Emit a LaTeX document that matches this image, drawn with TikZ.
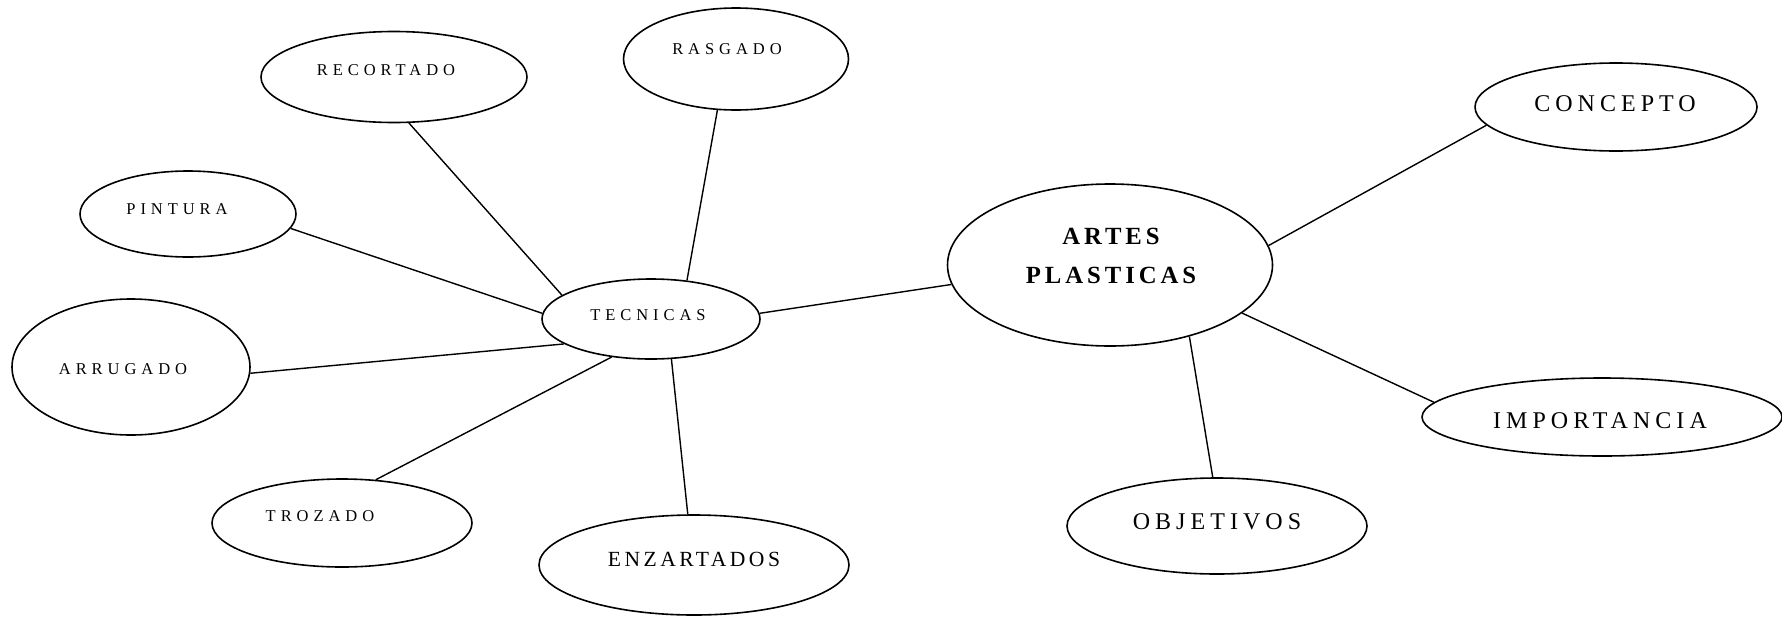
\documentclass[tikz,border=0pt]{standalone}
\usepackage{fontspec}
\usetikzlibrary{shapes.geometric}
\setmainfont{Liberation Serif}
\newfontfamily\smallf[LetterSpace=30]{Liberation Serif}
\newfontfamily\bigf[LetterSpace=21]{Liberation Serif}
\newfontfamily\enzf[LetterSpace=16]{Liberation Serif}
\newfontfamily\artf[LetterSpace=16]{Liberation Serif}
\tikzset{
  ell/.style={draw, ellipse, line width=1.6pt, inner sep=0pt},
  conn/.style={line width=1.4pt},
  sml/.style={inner sep=0pt, font=\smallf\fontsize{16.5}{19}\selectfont},
  bigl/.style={inner sep=0pt, font=\bigf\fontsize{24}{28}\selectfont},
  enzl/.style={inner sep=0pt, font=\enzf\fontsize{21.6}{25}\selectfont},
  artl/.style={inner sep=0pt, align=center, font=\artf\bfseries\fontsize{24.7}{39}\selectfont},
}
\begin{document}
\begin{tikzpicture}[x=1pt,y=-1pt]
\useasboundingbox (0,0) rectangle (1782,616);
% ellipses
\node[ell, minimum width=266, minimum height=91] (rec) at (394,77) {};
\node[ell, minimum width=225, minimum height=102] (ras) at (736,59) {};
\node[ell, minimum width=216, minimum height=86] (pin) at (188,214) {};
\node[ell, minimum width=238, minimum height=136] (arr) at (131,367) {};
\node[ell, minimum width=218, minimum height=80] (tec) at (651,319) {};
\node[ell, minimum width=260, minimum height=88] (tro) at (342,523) {};
\node[ell, minimum width=310, minimum height=100] (enz) at (694,565) {};
\node[ell, minimum width=325, minimum height=162] (art) at (1110,265) {};
\node[ell, minimum width=282, minimum height=88] (con) at (1616,107) {};
\node[ell, minimum width=360, minimum height=78] (imp) at (1602,417) {};
\node[ell, minimum width=300, minimum height=96] (obj) at (1217,526) {};
% texts
\node[sml] (recT) at (386,70) {RECORTADO};
\node[sml] (rasT) at (727,49) {RASGADO};
\node[sml] (pinT) at (177,209) {PINTURA};
\node[sml] (arrT) at (123,369) {ARRUGADO};
\node[sml] (tecT) at (648,315) {TECNICAS};
\node[sml] (troT) at (320,516) {TROZADO};
\node[enzl] (enzT) at (694,559) {ENZARTADOS};
\node[artl] (artT) at (1111,256) {ARTES\\PLASTICAS};
\node[bigl] (conT) at (1615,104) {CONCEPTO};
\node[bigl] (impT) at (1600,421) {IMPORTANCIA};
\node[bigl] (objT) at (1217,522) {OBJETIVOS};
% connectors
\draw[conn] (rec.288) -- (tec.165);
\draw[conn] (ras.250) -- (tec.47);
\draw[conn] (pin.352) -- (tec.177);
\draw[conn] (arr.357) -- (tec.196);
\draw[conn] (tro.52) -- (tec.224);
\draw[conn] (enz.97) -- (tec.297);
\draw[conn] (tec.3) -- (art.187);
\draw[conn] (art.7) -- (con.188);
\draw[conn] (art.340) -- (imp.175);
\draw[conn] (art.318) -- (obj.95);
\end{tikzpicture}
\end{document}
